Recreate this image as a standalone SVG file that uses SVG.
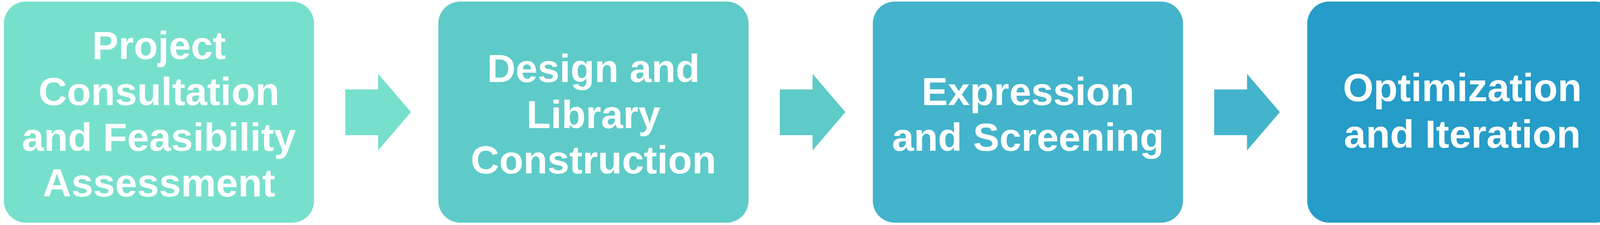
<svg xmlns="http://www.w3.org/2000/svg" width="6372" height="576" viewBox="0 0 6372 576">
<style>
.box{stroke:none}
.lbl{font-family:"Liberation Sans",Arial,sans-serif;font-weight:bold;font-size:101px;fill:#FFFFFF;text-anchor:middle}
</style>
<defs>
<path id="arr" d="M0,229 H84 V189 L168,287 L84,385 V346 H0 Z"/>
</defs>
<rect width="6372" height="576" fill="#FFFFFF"/>
<g id="connectors">
<use href="#arr" x="884" fill="#77E0CC"/>
<use href="#arr" x="1996.2" fill="#5ECBC8"/>
<use href="#arr" x="3108.4" fill="#43B4CB"/>
<use href="#arr" x="4220.6" fill="#269CC8"/>
<use href="#arr" x="5332.8" fill="#0F89C8"/>
</g>
<g id="node1">
<rect class="box" x="10" y="4" width="794" height="566" rx="56" ry="56" fill="#77E0CC"/>
<text class="lbl" x="407" y="151">Project</text>
<text class="lbl" x="407" y="269">Consultation</text>
<text class="lbl" x="407" y="386">and Feasibility</text>
<text class="lbl" x="407" y="503">Assessment</text>
</g>
<g id="node2">
<rect class="box" x="1122.2" y="4" width="794" height="566" rx="56" ry="56" fill="#5ECBC8"/>
<text class="lbl" x="1519.2" y="210">Design and</text>
<text class="lbl" x="1519.2" y="328">Library</text>
<text class="lbl" x="1519.2" y="444">Construction</text>
</g>
<g id="node3">
<rect class="box" x="2234.4" y="4" width="794" height="566" rx="56" ry="56" fill="#43B4CB"/>
<text class="lbl" x="2631.4" y="269">Expression</text>
<text class="lbl" x="2631.4" y="386">and Screening</text>
</g>
<g id="node4">
<rect class="box" x="3346.6" y="4" width="794" height="566" rx="56" ry="56" fill="#269CC8"/>
<text class="lbl" x="3743.6" y="259">Optimization</text>
<text class="lbl" x="3743.6" y="378">and Iteration</text>
</g>
<g id="node5">
<rect class="box" x="4458.8" y="4" width="794" height="566" rx="56" ry="56" fill="#0F89C8"/>
<text class="lbl" x="4855.8" y="210">Characterizati</text>
<text class="lbl" x="4855.8" y="328">on and</text>
<text class="lbl" x="4855.8" y="444">Validation</text>
</g>
<g id="node6">
<rect class="box" x="5571" y="4" width="794" height="566" rx="56" ry="56" fill="#0E89C9"/>
<text class="lbl" x="5968" y="269">Scale-Up and</text>
<text class="lbl" x="5968" y="386">Delivery</text>
</g>
</svg>
